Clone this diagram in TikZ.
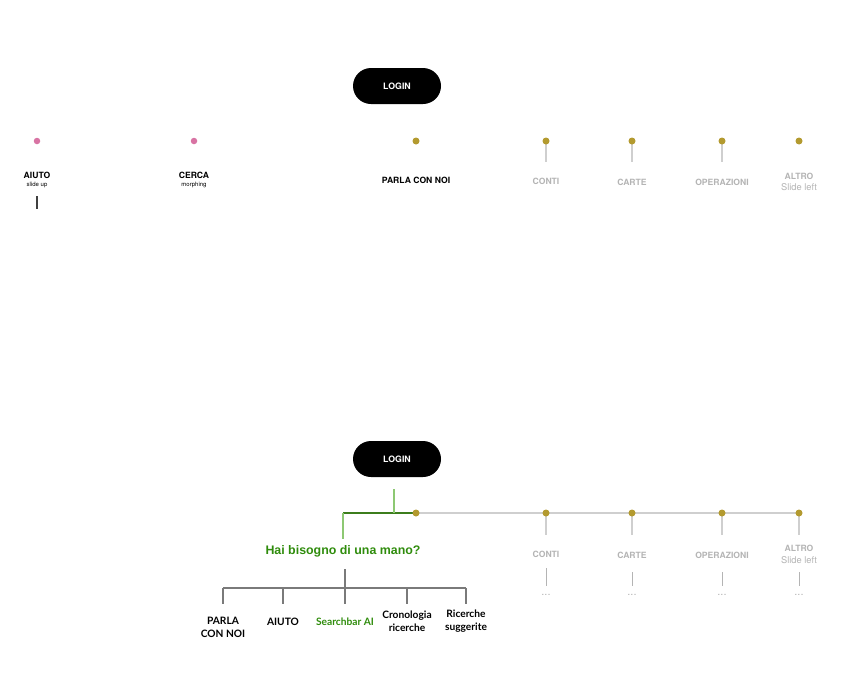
\documentclass[tikz,border=0pt]{standalone}
\usepackage{fontspec}
\setmainfont{TeX Gyre Heros}
\newfontfamily\lato{Lato}
\newfontfamily\arialf{Liberation Sans}
\definecolor{gold}{HTML}{B39A2F}
\definecolor{pinkd}{HTML}{D873A3}
\definecolor{lgray}{HTML}{B4B4B4}
\definecolor{lline}{HTML}{CFCFCF}
\definecolor{dgray}{HTML}{7A7A7A}
\definecolor{gtext}{HTML}{2F8C0C}
\definecolor{lgreen}{HTML}{8DC873}
\definecolor{dgreen}{HTML}{3C7D1C}
\tikzset{
  pill/.style={fill=black, rounded corners=18pt, minimum width=88pt, minimum height=36pt, inner sep=0pt, text=white, font=\fontsize{8.8}{10}\selectfont\bfseries},
  gdot/.style={circle, fill=gold, minimum size=7pt, inner sep=0pt},
  pdot/.style={circle, fill=pinkd, minimum size=6.5pt, inner sep=0pt},
  caplab/.style={font=\fontsize{8.6}{10}\selectfont\bfseries, inner sep=0pt},
  graylab/.style={caplab, text=lgray},
  sublab/.style={font=\fontsize{6}{7}\selectfont, inner sep=0pt},
  graysub/.style={font=\fontsize{9.3}{11}\selectfont, text=lgray, inner sep=0pt},
  lightline/.style={draw=lline, line width=1.4pt},
  treeline/.style={draw=dgray, line width=1.6pt},
  leaf/.style={font=\lato\bfseries\fontsize{10.2}{12.5}\selectfont, align=center, inner sep=0pt},
  dots/.style={font=\fontsize{11}{12}\selectfont, text=lgray, inner sep=0pt}
}
\begin{document}
\begin{tikzpicture}[x=1pt,y=-1pt]
\useasboundingbox (0,0) rectangle (845,675);
% ===== TOP =====
\node[pill] (login1) at (397,86) {LOGIN};
\node[pdot] (aiutoD) at (37,141) {};
\node[pdot] (cercaD) at (194,141) {};
\node[caplab] (aiutoL) at (37,175) {AIUTO};
\node[sublab] (aiutoS) at (37,185) {slide up};
\coordinate (aiutoA) at (37,196);
\coordinate (aiutoB) at (37,209);
\draw[draw=black!75, line width=1.4pt] (aiutoA) -- (aiutoB);
\node[caplab] (cercaL) at (194,175) {CERCA};
\node[sublab] (cercaS) at (194,185) {morphing};
\node[gdot] (parlaD) at (416,141) {};
\node[caplab] (parlaL) at (416,180) {PARLA CON NOI};
\foreach \n/\x in {conti/546,carte/632,oper/722}{
  \coordinate (\n T) at (\x,162);
  \draw[lightline] (\x,141) -- (\n T);
  \node[gdot] (\n D) at (\x,141) {};
}
\node[gdot] (altroD) at (799,141) {};
\node[graylab] (contiL) at (546,181) {CONTI};
\node[graylab] (carteL) at (632,182) {CARTE};
\node[graylab] (operL) at (722,182) {OPERAZIONI};
\node[graylab] (altroL) at (799,176) {ALTRO};
\node[graysub] (altroS) at (799,187) {Slide left};
% ===== BOTTOM =====
\node[pill] (login2) at (397,459) {LOGIN};
\coordinate (g1) at (394,489);
\coordinate (g2) at (394,513);
\coordinate (g3) at (343,513);
\coordinate (g4) at (343,539);
\coordinate (cP) at (416,513);
\coordinate (cA) at (799,513);
\draw[lightline] (cP) -- (cA);
\foreach \n/\x in {conti/546,carte/632,oper/722,altro/799}{
  \coordinate (\n B) at (\x,535);
  \draw[lightline] (\x,513) -- (\n B);
}
\draw[draw=dgreen, line width=1.4pt] (g3) -- (cP);
\draw[draw=lgreen, line width=1.8pt] (g1) -- (g2);
\draw[draw=lgreen, line width=1.8pt] (g3) -- (g4);
\node[gdot] (parlaD2) at (cP) {};
\node[gdot] (contiD2) at (546,513) {};
\node[gdot] (carteD2) at (632,513) {};
\node[gdot] (operD2) at (722,513) {};
\node[gdot] (altroD2) at (cA) {};
\node[graylab] (contiL2) at (546,554) {CONTI};
\node[graylab] (carteL2) at (632,555) {CARTE};
\node[graylab] (operL2) at (722,555) {OPERAZIONI};
\node[graylab] (altroL2) at (799,548) {ALTRO};
\node[graysub] (altroS2) at (799,560) {Slide left};
\foreach \n/\x/\y in {conti/546/568,carte/632/572,oper/722/572,altro/799/572}{
  \coordinate (\n U) at (\x,\y);
  \coordinate (\n V) at (\x,586);
  \draw[draw=lgray, line width=1pt] (\n U) -- (\n V);
  \node[dots, anchor=base] (\n E) at (\x,595) {...};
}
\node[font=\arialf\bfseries\fontsize{12.4}{14}\selectfont, text=gtext, inner sep=0pt] (hai) at (343,551) {Hai bisogno di una mano?};
% tree
\coordinate (t0) at (345,569);
\coordinate (t1) at (345,604);
\coordinate (hl) at (223,588);
\coordinate (hr) at (466,588);
\draw[treeline] (t0) -- (t1);
\draw[treeline] (hl) -- (hr);
\foreach \n/\x in {a/223,b/283,d/407,e/466}{
  \coordinate (\n U) at (\x,588);
  \coordinate (\n V) at (\x,604);
  \draw[treeline] (\n U) -- (\n V);
}
\node[leaf] (leafA) at (223,627.5) {PARLA\\CON NOI};
\node[leaf] (leafB) at (283,621.5) {AIUTO};
\node[leaf, text=gtext] (leafC) at (345,621.5) {Searchbar AI};
\node[leaf] (leafD) at (407,621) {Cronologia\\ricerche};
\node[leaf] (leafE) at (466,621) {Ricerche\\suggerite};
\end{tikzpicture}
\end{document}
